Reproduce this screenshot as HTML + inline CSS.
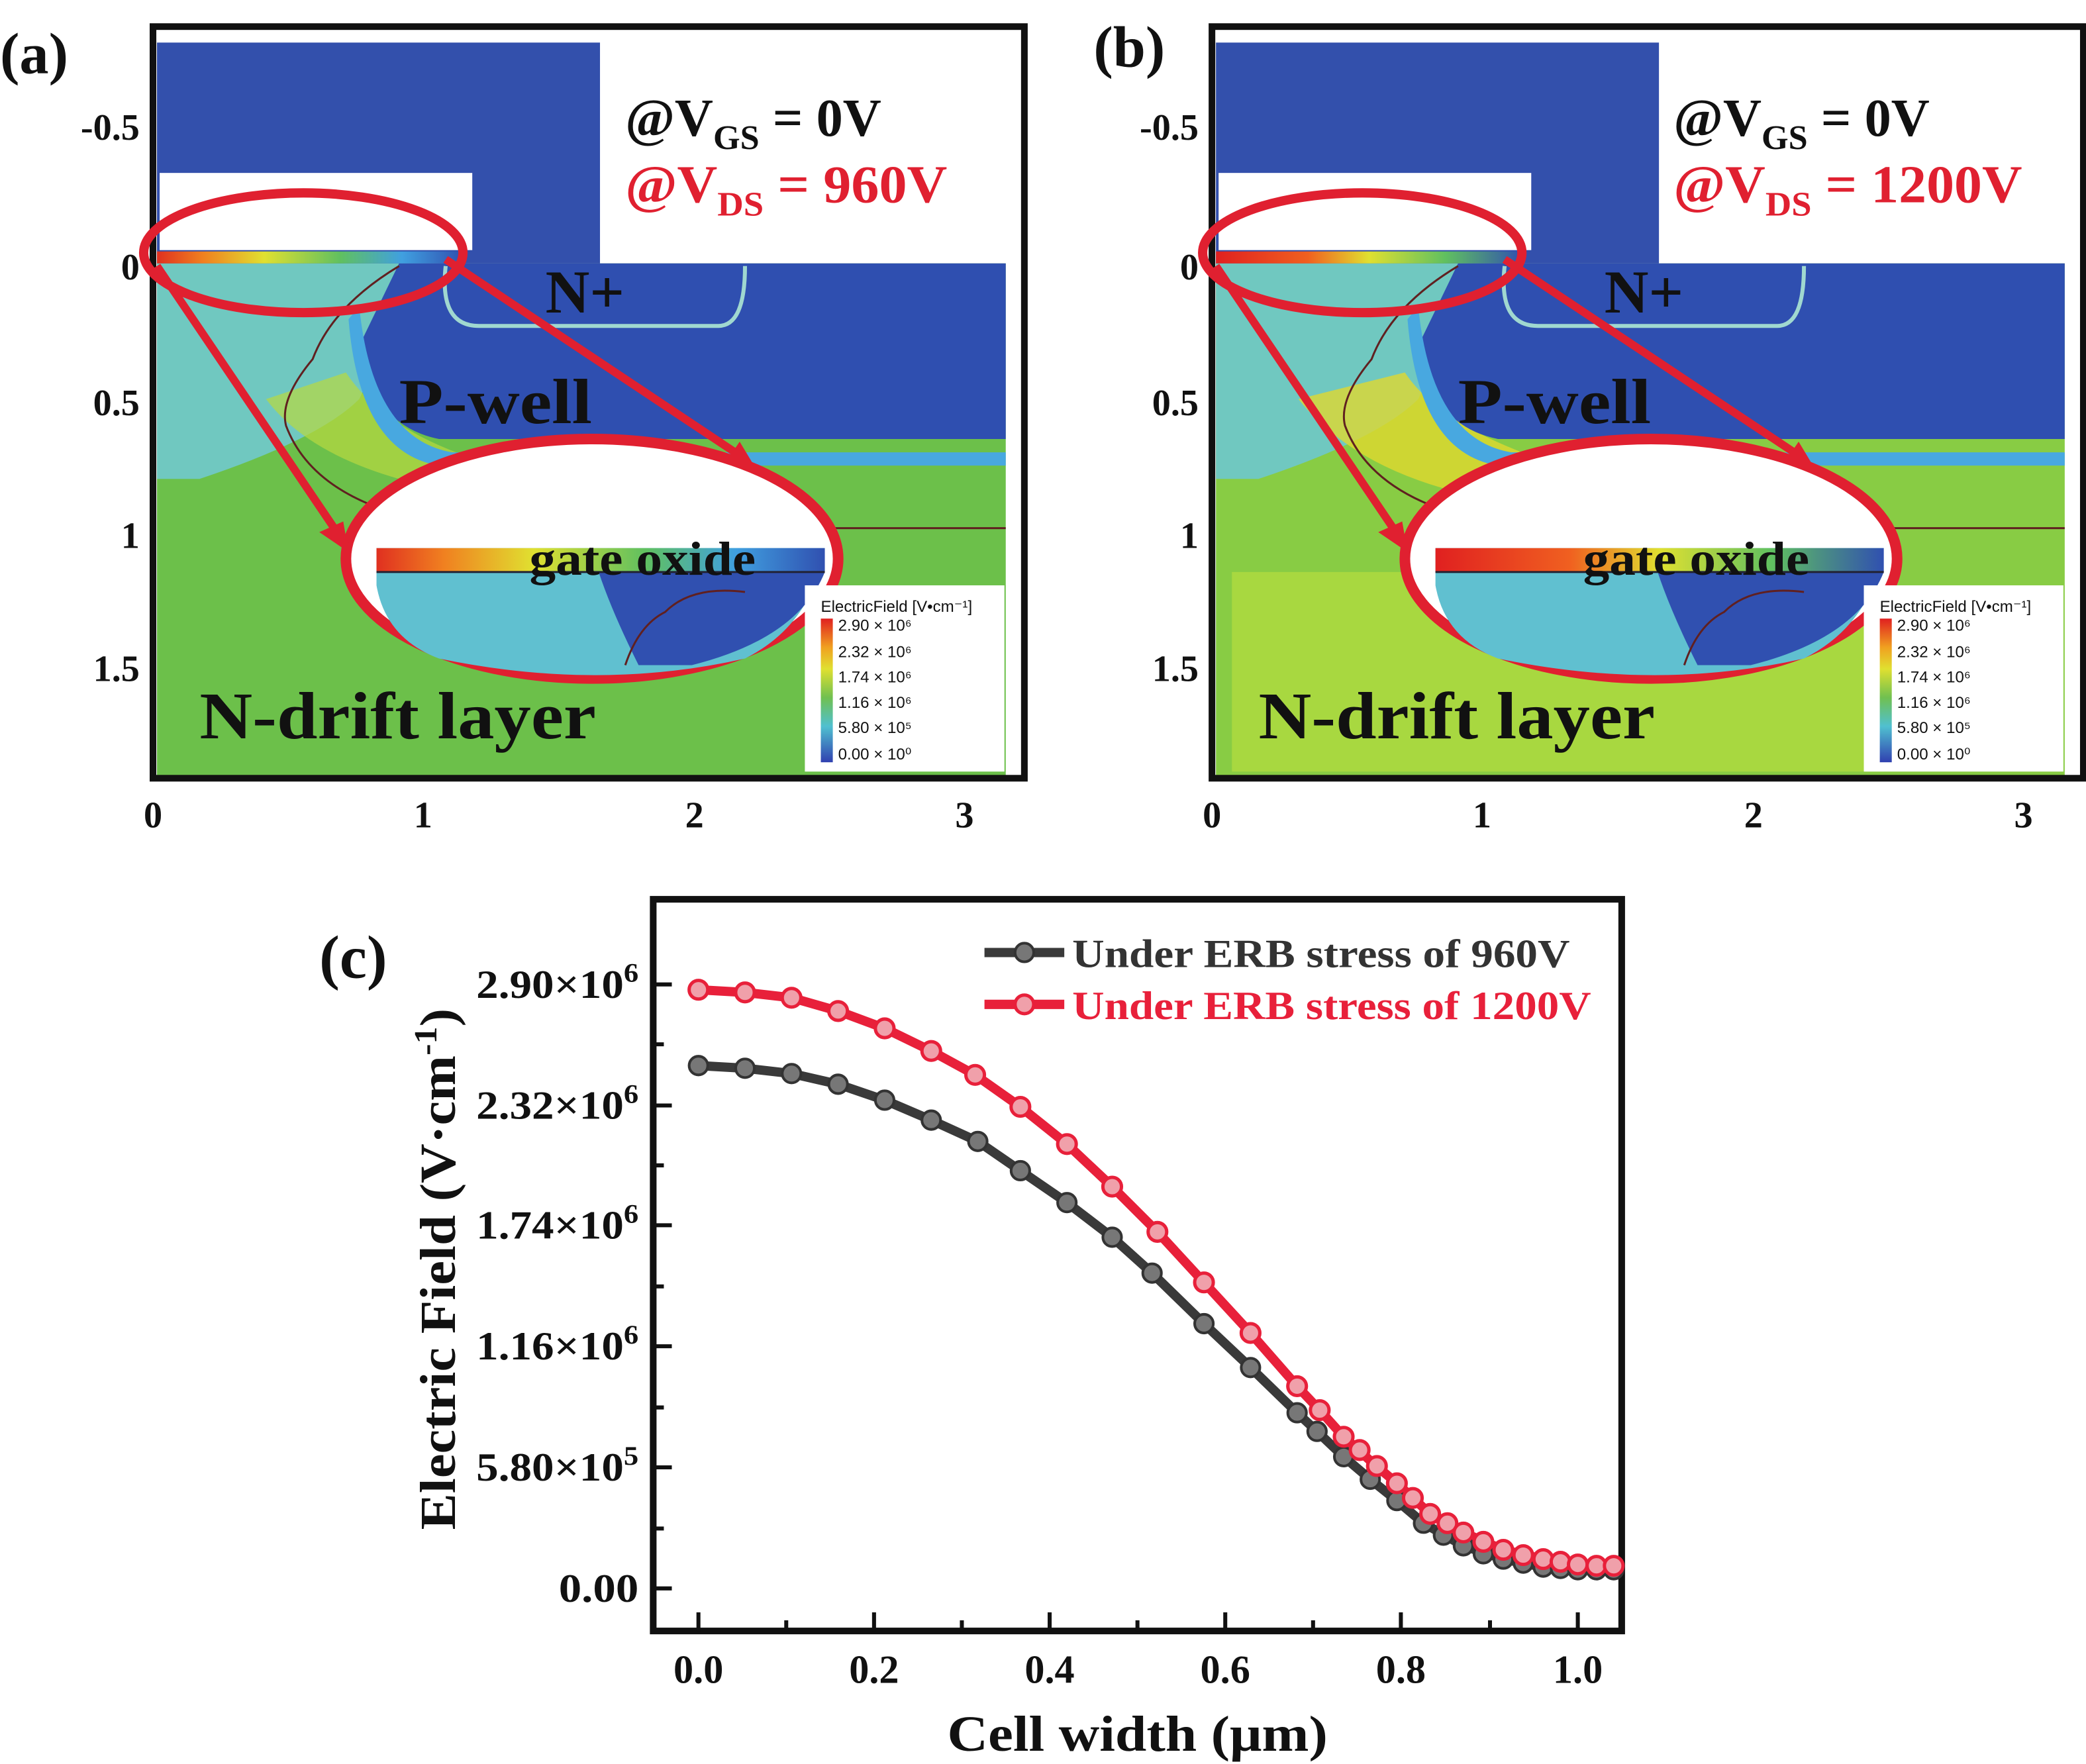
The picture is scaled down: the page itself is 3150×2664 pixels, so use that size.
<!DOCTYPE html>
<html><head><meta charset="utf-8"><style>html,body{margin:0;padding:0;background:#fff}svg{display:block}</style></head>
<body>
<svg width="3150" height="2664" viewBox="0 0 1568 1326" preserveAspectRatio="none" xmlns="http://www.w3.org/2000/svg" font-family="Liberation Serif, serif" font-weight="bold">
<defs>
<linearGradient id="ox" x1="0" x2="1"><stop offset="0" stop-color="#e03020"/><stop offset="0.15" stop-color="#f08020"/><stop offset="0.35" stop-color="#e0e030"/><stop offset="0.6" stop-color="#60c060"/><stop offset="0.8" stop-color="#40a0e0"/><stop offset="1" stop-color="#3050b0"/></linearGradient>
<linearGradient id="ox2" x1="0" x2="1"><stop offset="0" stop-color="#e02020"/><stop offset="0.3" stop-color="#f06020"/><stop offset="0.5" stop-color="#e0e030"/><stop offset="0.75" stop-color="#60c060"/><stop offset="1" stop-color="#3050b0"/></linearGradient>
<linearGradient id="leg" x1="0" y1="0" x2="0" y2="1"><stop offset="0" stop-color="#e02020"/><stop offset="0.2" stop-color="#f0a020"/><stop offset="0.35" stop-color="#e0e030"/><stop offset="0.55" stop-color="#70c050"/><stop offset="0.75" stop-color="#50c0d0"/><stop offset="1" stop-color="#3040b0"/></linearGradient>
</defs>
<rect x="0" y="0" width="1568" height="1326" fill="#fff"/>
<g>
<rect x="118" y="198" width="638" height="385" fill="#6cc04a"/>
<path d="M118 198 H300 Q290 260 270 300 Q240 330 150 360 L118 360 Z" fill="#70c8c0"/>
<path d="M200 300 Q230 340 300 360 L420 360 Q300 340 260 280 Z" fill="#b8d840" opacity="0.7"/>
<path d="M300 198 H756 V330 H330 Q280 320 270 260 Z" fill="#2f4fb0"/>
<path d="M270 230 Q280 330 340 340 H756 V350 H330 Q270 340 262 240Z" fill="#48a8e0"/>
<rect x="118" y="32" width="333" height="166" fill="#3350ac"/>
<rect x="120" y="130" width="235" height="58" fill="#fff"/>
<rect x="118" y="189" width="230" height="9" fill="url(#ox)"/>
<path d="M335 200 Q330 245 360 245 H540 Q560 245 560 200" fill="none" stroke="#a0d8d0" stroke-width="3"/>
<path d="M300 200 Q250 230 235 270 Q210 300 215 320 Q230 360 280 380 Q330 395 460 397 H756" fill="none" stroke="#602020" stroke-width="1.5"/>
<rect x="115" y="20" width="655" height="565" fill="none" stroke="#111" stroke-width="5"/>
<ellipse cx="228" cy="190" rx="120" ry="45" fill="none" stroke="#e02030" stroke-width="7"/>
<ellipse cx="445" cy="420" rx="185" ry="90" fill="#fff" stroke="#e02030" stroke-width="8"/>
<path d="M283 412 H620 Q610 470 560 495 Q450 520 330 495 Q290 480 283 440Z" fill="#60c0d0"/>
<path d="M450 430 H620 Q600 480 520 500 L480 500 Q460 460 450 430Z" fill="#3050b0"/>
<path d="M470 500 Q480 470 500 460 Q520 440 560 445" fill="none" stroke="#602020" stroke-width="1.5"/>
<rect x="283" y="412" width="337" height="18" fill="url(#ox)"/>
<line x1="283" y1="430" x2="620" y2="430" stroke="#223" stroke-width="1.5"/>
<line x1="118" y1="200" x2="260" y2="410" stroke="#e02030" stroke-width="6"/>
<polygon points="262,415 240,400 258,392" fill="#e02030"/>
<line x1="335" y1="195" x2="560" y2="345" stroke="#e02030" stroke-width="6"/>
<polygon points="568,352 545,348 556,332" fill="#e02030"/>
<text x="398" y="432" font-size="36" fill="#111" textLength="170" lengthAdjust="spacingAndGlyphs">gate oxide</text>
<text x="410" y="235" font-size="46" fill="#111">N+</text>
<text x="300" y="318" font-size="48" fill="#111" textLength="145" lengthAdjust="spacingAndGlyphs">P-well</text>
<text x="150" y="555" font-size="50" fill="#111" textLength="298" lengthAdjust="spacingAndGlyphs">N-drift layer</text>
<text x="470" y="102" font-size="40" fill="#111">@V<tspan font-size="26" dy="10">GS</tspan><tspan dy="-10"> = 0V</tspan></text>
<text x="470" y="152" font-size="40" fill="#e02030" textLength="242" lengthAdjust="spacingAndGlyphs">@V<tspan font-size="26" dy="10">DS</tspan><tspan dy="-10"> = 960V</tspan></text>
<rect x="605" y="440" width="150" height="140" fill="#fff"/>
<rect x="617" y="465" width="9" height="108" fill="url(#leg)"/>
<g font-family="Liberation Sans, sans-serif" font-weight="normal" font-size="12" fill="#111"><text x="617" y="460">ElectricField [V•cm⁻¹]</text><text x="630" y="474">2.90 × 10⁶</text><text x="630" y="494">2.32 × 10⁶</text><text x="630" y="513">1.74 × 10⁶</text><text x="630" y="532">1.16 × 10⁶</text><text x="630" y="551">5.80 × 10⁵</text><text x="630" y="571">0.00 × 10⁰</text></g>
<text x="0" y="55" font-size="44" fill="#111">(a)</text>
<g font-size="28" fill="#111" text-anchor="end"><text x="105" y="105">-0.5</text><text x="105" y="210">0</text><text x="105" y="312">0.5</text><text x="105" y="412">1</text><text x="105" y="512">1.5</text></g>
<g font-size="28" fill="#111" text-anchor="middle"><text x="115" y="622">0</text><text x="318" y="622">1</text><text x="522" y="622">2</text><text x="725" y="622">3</text></g>
</g>
<g transform="translate(796,0)">
<rect x="118" y="198" width="638" height="385" fill="#88cc44"/>
<rect x="130" y="430" width="490" height="150" fill="#a8d840"/>
<path d="M118 198 H300 Q290 260 270 300 Q240 330 150 360 L118 360 Z" fill="#70c8c0"/>
<path d="M180 300 Q220 350 300 370 L460 370 Q300 340 260 280 Z" fill="#e0d830" opacity="0.8"/>
<path d="M300 198 H756 V330 H330 Q280 320 270 260 Z" fill="#2f4fb0"/>
<path d="M270 230 Q280 330 340 340 H756 V350 H330 Q270 340 262 240Z" fill="#48a8e0"/>
<rect x="118" y="32" width="333" height="166" fill="#3350ac"/>
<rect x="120" y="130" width="235" height="58" fill="#fff"/>
<rect x="118" y="189" width="230" height="9" fill="url(#ox2)"/>
<path d="M335 200 Q330 245 360 245 H540 Q560 245 560 200" fill="none" stroke="#a0d8d0" stroke-width="3"/>
<path d="M300 200 Q250 230 235 270 Q210 300 215 320 Q230 360 280 380 Q330 395 460 397 H756" fill="none" stroke="#602020" stroke-width="1.5"/>
<rect x="115" y="20" width="655" height="565" fill="none" stroke="#111" stroke-width="5"/>
<ellipse cx="228" cy="190" rx="120" ry="45" fill="none" stroke="#e02030" stroke-width="7"/>
<ellipse cx="445" cy="420" rx="185" ry="90" fill="#fff" stroke="#e02030" stroke-width="8"/>
<path d="M283 412 H620 Q610 470 560 495 Q450 520 330 495 Q290 480 283 440Z" fill="#60c0d0"/>
<path d="M450 430 H620 Q600 480 520 500 L480 500 Q460 460 450 430Z" fill="#3050b0"/>
<path d="M470 500 Q480 470 500 460 Q520 440 560 445" fill="none" stroke="#602020" stroke-width="1.5"/>
<rect x="283" y="412" width="337" height="18" fill="url(#ox2)"/>
<line x1="283" y1="430" x2="620" y2="430" stroke="#223" stroke-width="1.5"/>
<line x1="118" y1="200" x2="260" y2="410" stroke="#e02030" stroke-width="6"/>
<polygon points="262,415 240,400 258,392" fill="#e02030"/>
<line x1="335" y1="195" x2="560" y2="345" stroke="#e02030" stroke-width="6"/>
<polygon points="568,352 545,348 556,332" fill="#e02030"/>
<text x="394" y="432" font-size="36" fill="#111" textLength="170" lengthAdjust="spacingAndGlyphs">gate oxide</text>
<text x="410" y="235" font-size="46" fill="#111">N+</text>
<text x="300" y="318" font-size="48" fill="#111" textLength="145" lengthAdjust="spacingAndGlyphs">P-well</text>
<text x="150" y="555" font-size="50" fill="#111" textLength="298" lengthAdjust="spacingAndGlyphs">N-drift layer</text>
<text x="462" y="102" font-size="40" fill="#111">@V<tspan font-size="26" dy="10">GS</tspan><tspan dy="-10"> = 0V</tspan></text>
<text x="462" y="152" font-size="40" fill="#e02030" textLength="262" lengthAdjust="spacingAndGlyphs">@V<tspan font-size="26" dy="10">DS</tspan><tspan dy="-10"> = 1200V</tspan></text>
<rect x="605" y="440" width="150" height="140" fill="#fff"/>
<rect x="617" y="465" width="9" height="108" fill="url(#leg)"/>
<g font-family="Liberation Sans, sans-serif" font-weight="normal" font-size="12" fill="#111"><text x="617" y="460">ElectricField [V•cm⁻¹]</text><text x="630" y="474">2.90 × 10⁶</text><text x="630" y="494">2.32 × 10⁶</text><text x="630" y="513">1.74 × 10⁶</text><text x="630" y="532">1.16 × 10⁶</text><text x="630" y="551">5.80 × 10⁵</text><text x="630" y="571">0.00 × 10⁰</text></g>
<text x="26" y="50" font-size="44" fill="#111">(b)</text>
<g font-size="28" fill="#111" text-anchor="end"><text x="105" y="105">-0.5</text><text x="105" y="210">0</text><text x="105" y="312">0.5</text><text x="105" y="412">1</text><text x="105" y="512">1.5</text></g>
<g font-size="28" fill="#111" text-anchor="middle"><text x="115" y="622">0</text><text x="318" y="622">1</text><text x="522" y="622">2</text><text x="725" y="622">3</text></g>
</g>
<!-- panel c -->
<text x="240" y="735" font-size="46" fill="#111">(c)</text>
<rect x="491" y="676" width="728" height="550" fill="none" stroke="#111" stroke-width="5"/>
<g stroke="#111" stroke-width="3">
<line x1="525" y1="1226" x2="525" y2="1212"/><line x1="657" y1="1226" x2="657" y2="1212"/><line x1="789" y1="1226" x2="789" y2="1212"/><line x1="921" y1="1226" x2="921" y2="1212"/><line x1="1053" y1="1226" x2="1053" y2="1212"/><line x1="1186" y1="1226" x2="1186" y2="1212"/>
<line x1="591" y1="1226" x2="591" y2="1218"/><line x1="723" y1="1226" x2="723" y2="1218"/><line x1="855" y1="1226" x2="855" y2="1218"/><line x1="987" y1="1226" x2="987" y2="1218"/><line x1="1120" y1="1226" x2="1120" y2="1218"/>
<line x1="491" y1="740" x2="505" y2="740"/><line x1="491" y1="831" x2="505" y2="831"/><line x1="491" y1="921" x2="505" y2="921"/><line x1="491" y1="1012" x2="505" y2="1012"/><line x1="491" y1="1103" x2="505" y2="1103"/><line x1="491" y1="1194" x2="505" y2="1194"/>
<line x1="491" y1="785" x2="499" y2="785"/><line x1="491" y1="876" x2="499" y2="876"/><line x1="491" y1="967" x2="499" y2="967"/><line x1="491" y1="1058" x2="499" y2="1058"/><line x1="491" y1="1149" x2="499" y2="1149"/>
</g>
<g font-size="30" fill="#111">
<text x="358" y="750" textLength="122" lengthAdjust="spacingAndGlyphs">2.90×10<tspan font-size="20" dy="-12">6</tspan></text>
<text x="358" y="841" textLength="122" lengthAdjust="spacingAndGlyphs">2.32×10<tspan font-size="20" dy="-12">6</tspan></text>
<text x="358" y="931" textLength="122" lengthAdjust="spacingAndGlyphs">1.74×10<tspan font-size="20" dy="-12">6</tspan></text>
<text x="358" y="1022" textLength="122" lengthAdjust="spacingAndGlyphs">1.16×10<tspan font-size="20" dy="-12">6</tspan></text>
<text x="358" y="1113" textLength="122" lengthAdjust="spacingAndGlyphs">5.80×10<tspan font-size="20" dy="-12">5</tspan></text>
<text x="420" y="1204" textLength="60" lengthAdjust="spacingAndGlyphs">0.00</text></g>
<g font-size="30" fill="#111" text-anchor="middle"><text x="525" y="1265">0.0</text><text x="657" y="1265">0.2</text><text x="789" y="1265">0.4</text><text x="921" y="1265">0.6</text><text x="1053" y="1265">0.8</text><text x="1186" y="1265">1.0</text></g>
<text x="712" y="1316" font-size="38" fill="#111" textLength="286" lengthAdjust="spacingAndGlyphs">Cell width (μm)</text>
<text transform="translate(342,1150) rotate(-90)" font-size="38" fill="#111" textLength="392" lengthAdjust="spacingAndGlyphs">Electric Field (V·cm<tspan font-size="24" dy="-14">-1</tspan><tspan dy="14">)</tspan></text>
<polyline fill="none" stroke="#3a3a3a" stroke-width="7" points="525,801 560,803 595,807 630,815 665,827 700,842 735,858 767,880 802,904 836,930 866,957 905,995 940,1028 975,1062 990,1076 1010,1095 1030,1112 1050,1128 1070,1145 1100,1162 1130,1172 1160,1178 1186,1180 1215,1180"/>
<polyline fill="none" stroke="#e8203a" stroke-width="7" points="525,744 560,746 595,750 630,760 665,773 700,790 733,808 767,832 802,860 836,892 870,926 905,964 940,1002 975,1042 992,1060 1010,1080 1030,1098 1050,1115 1075,1138 1100,1152 1130,1165 1160,1172 1186,1176 1215,1177"/>
<g fill="#777" stroke="#333" stroke-width="2">
<circle cx="525" cy="801" r="7"/><circle cx="560" cy="803" r="7"/><circle cx="595" cy="807" r="7"/><circle cx="630" cy="815" r="7"/><circle cx="665" cy="827" r="7"/><circle cx="700" cy="842" r="7"/><circle cx="735" cy="858" r="7"/><circle cx="767" cy="880" r="7"/><circle cx="802" cy="904" r="7"/><circle cx="836" cy="930" r="7"/><circle cx="866" cy="957" r="7"/><circle cx="905" cy="995" r="7"/><circle cx="940" cy="1028" r="7"/><circle cx="975" cy="1062" r="7"/><circle cx="990" cy="1076" r="7"/><circle cx="1010" cy="1095" r="7"/><circle cx="1030" cy="1112" r="7"/><circle cx="1050" cy="1128" r="7"/><circle cx="1070" cy="1145" r="7"/><circle cx="1085" cy="1154" r="7"/><circle cx="1100" cy="1162" r="7"/><circle cx="1115" cy="1168" r="7"/><circle cx="1130" cy="1172" r="7"/><circle cx="1145" cy="1175" r="7"/><circle cx="1160" cy="1178" r="7"/><circle cx="1173" cy="1179" r="7"/><circle cx="1186" cy="1180" r="7"/><circle cx="1200" cy="1180" r="7"/><circle cx="1213" cy="1180" r="7"/>
</g>
<g fill="#f0a0aa" stroke="#e8203a" stroke-width="2.5">
<circle cx="525" cy="744" r="7"/><circle cx="560" cy="746" r="7"/><circle cx="595" cy="750" r="7"/><circle cx="630" cy="760" r="7"/><circle cx="665" cy="773" r="7"/><circle cx="700" cy="790" r="7"/><circle cx="733" cy="808" r="7"/><circle cx="767" cy="832" r="7"/><circle cx="802" cy="860" r="7"/><circle cx="836" cy="892" r="7"/><circle cx="870" cy="926" r="7"/><circle cx="905" cy="964" r="7"/><circle cx="940" cy="1002" r="7"/><circle cx="975" cy="1042" r="7"/><circle cx="992" cy="1060" r="7"/><circle cx="1010" cy="1080" r="7"/><circle cx="1022" cy="1090" r="7"/><circle cx="1035" cy="1102" r="7"/><circle cx="1050" cy="1115" r="7"/><circle cx="1062" cy="1126" r="7"/><circle cx="1075" cy="1138" r="7"/><circle cx="1088" cy="1145" r="7"/><circle cx="1100" cy="1152" r="7"/><circle cx="1115" cy="1159" r="7"/><circle cx="1130" cy="1165" r="7"/><circle cx="1145" cy="1169" r="7"/><circle cx="1160" cy="1172" r="7"/><circle cx="1173" cy="1174" r="7"/><circle cx="1186" cy="1176" r="7"/><circle cx="1200" cy="1177" r="7"/><circle cx="1213" cy="1177" r="7"/>
</g>
<line x1="740" y1="716" x2="800" y2="716" stroke="#3a3a3a" stroke-width="7"/><circle cx="770" cy="716" r="7" fill="#777" stroke="#333" stroke-width="2"/>
<line x1="740" y1="755" x2="800" y2="755" stroke="#e8203a" stroke-width="7"/><circle cx="770" cy="755" r="7" fill="#f0a0aa" stroke="#e8203a" stroke-width="2.5"/>
<text x="806" y="727" font-size="30" fill="#333" textLength="374" lengthAdjust="spacingAndGlyphs">Under ERB stress of 960V</text>
<text x="806" y="766" font-size="30" fill="#e8203a" textLength="390" lengthAdjust="spacingAndGlyphs">Under ERB stress of 1200V</text>
</svg>
</body></html>
